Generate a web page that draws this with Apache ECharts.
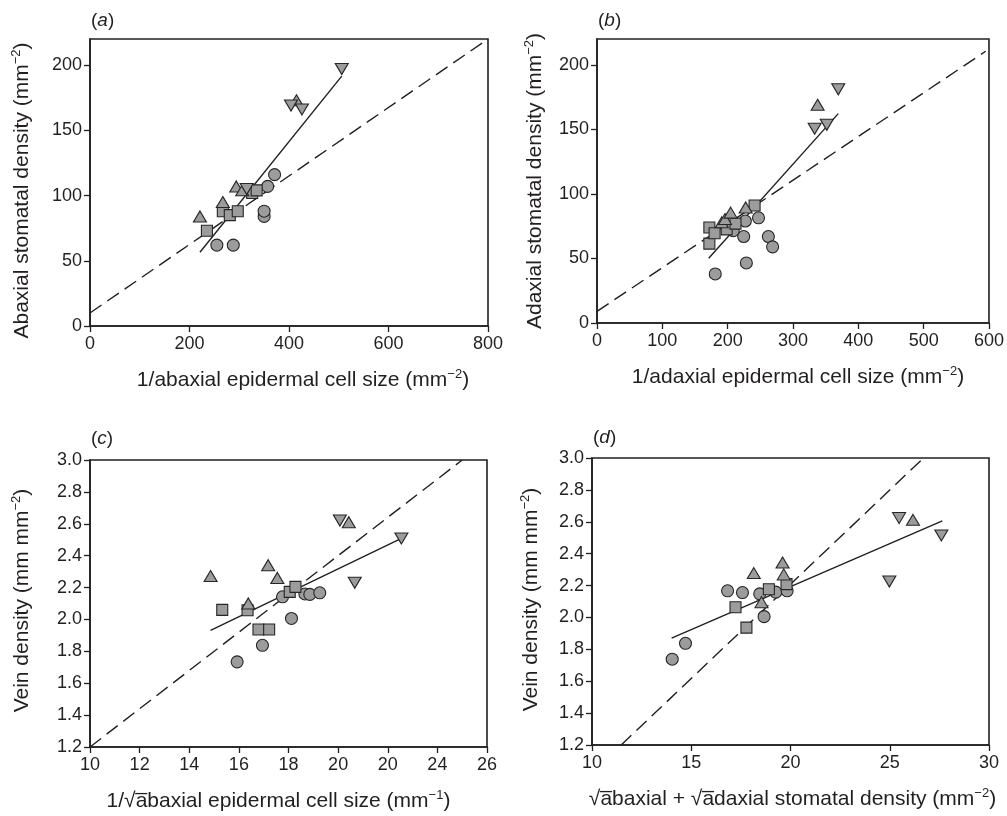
<!DOCTYPE html>
<html><head><meta charset="utf-8">
<script src="https://cdn.jsdelivr.net/npm/echarts@6/dist/echarts.min.js"></script>
<style>html,body{margin:0;padding:0;background:#fff}#c{width:1007px;height:816px}</style>
</head><body><div id="c"></div>
<script>
// ---------- Panel (a) ----------
const circlesA = [[255,62],[288,62],[350,84],[350,88],[357,107],[371,116]];
const squaresA = [[235,73],[267,88],[281,85],[297,88],[326,102],[335,104]];
const upA      = [[221,84],[267,95],[294,107],[306,104],[415,173]];
const downA    = [[315,105],[404,169],[426,166],[506,197]];
const solidA   = [[221,56.5],[506,191.5]];
const dashA    = [[0,10],[800,220]];
const xTicksA  = [0,200,400,600,800];
const yTicksA  = [0,50,100,150,200];

// ---------- Panel (b) ----------
const circlesB = [[181,38],[208.5,71.5],[224.6,67],[227,79],[228.6,46.5],[247.2,81.5],[262.3,67],[268.8,59]];
const squaresB = [[172,74],[172,61.5],[180,69.5],[198.5,72.5],[212,77],[241.2,91]];
const upB      = [[191,78],[196,80.5],[204.5,85.5],[227.6,89.5],[337.7,169]];
const downB    = [[333.2,150.5],[351.7,153.5],[369.3,181]];
const solidB   = [[171,50.2],[369.3,162.2]];
const dashB    = [[0,9],[595,210.5]];
const xTicksB  = [0,100,200,300,400,500,600];
const yTicksB  = [0,50,100,150,200];

// ---------- Panel (c) ----------
const circlesC = [[15.93,1.734],[16.95,1.838],[18.12,2.006],[17.76,2.142],[18.66,2.16],[18.86,2.157],[19.26,2.167]];
const squaresC = [[15.33,2.06],[16.35,2.058],[16.79,1.937],[17.22,1.937],[18.05,2.173],[18.28,2.204]];
const upC      = [[14.86,2.272],[17.18,2.34],[17.55,2.26],[16.38,2.10],[20.43,2.61]];
const downC    = [[20.07,2.62],[22.55,2.508],[20.67,2.23]];
const solidC   = [[14.86,1.932],[22.55,2.508]];
const dashC    = [[10,1.2],[25,3.0]];
const xTicksC  = [10,12,14,16,18,20,22,24,26];
const xLabelsC = ['10','12','14','16','18','20','20','24','26'];
const yTicksC  = [1.2,1.4,1.6,1.8,2.0,2.2,2.4,2.6,2.8,3.0];

// ---------- Panel (d) ----------
const circlesD = [[14.04,1.738],[14.71,1.838],[16.83,2.167],[17.58,2.156],[18.45,2.148],[19.26,2.159],[19.83,2.167],[18.67,2.005]];
const squaresD = [[17.23,2.064],[17.78,1.936],[18.91,2.177],[19.8,2.209]];
const upD      = [[18.15,2.278],[19.6,2.344],[19.66,2.27],[18.54,2.096],[26.17,2.612]];
const downD    = [[25.47,2.623],[27.6,2.514],[24.98,2.225]];
const solidD   = [[14.01,1.87],[27.65,2.606]];
const dashD    = [[11.47,1.2],[26.7,3.0]];
const xTicksD  = [10,15,20,25,30];
const yTicksD  = [1.2,1.4,1.6,1.8,2.0,2.2,2.4,2.6,2.8,3.0];

const FONT = '"Liberation Sans", Arial, Helvetica, sans-serif';
const INK = '#231f20';
const FILL = '#9c9c9c';

const grids = [
  {left:90, top:39, width:398, height:287},
  {left:597, top:39, width:398, height:284},
  {left:90, top:460, width:397, height:287},
  {left:592, top:458, width:397, height:287}
];

const richName = {
  t:{fontSize:21, fontFamily:FONT, color:INK},
  s:{fontSize:13, fontFamily:FONT, color:INK, padding:[0,0,11,0]}
};

function xAxis(gi, min, max, interval, ticks, name, gap, pad, fmt){
  return {
    type:'value', gridIndex:gi, min:min, max:max, interval:interval,
    name:name, nameLocation:'middle', nameGap:gap,
    nameTextStyle:{rich:richName, padding:pad},
    axisLine:{show:true, onZero:false, lineStyle:{color:INK, width:1.6}},
    axisTick:{show:true, length:6, lineStyle:{color:INK, width:1.3}, customValues:ticks},
    axisLabel:{color:INK, fontSize:18, fontFamily:FONT, margin:9, customValues:ticks,
      formatter: fmt || (v=>String(v))},
    splitLine:{show:false}
  };
}
function yAxis(gi, min, max, interval, ticks, name, gap, pad, fmt){
  return {
    type:'value', gridIndex:gi, min:min, max:max, interval:interval,
    name:name, nameLocation:'middle', nameGap:gap, nameRotate:90,
    nameTextStyle:{rich:richName, padding:pad},
    axisLine:{show:true, onZero:false, lineStyle:{color:INK, width:1.6}},
    axisTick:{show:true, length:6, lineStyle:{color:INK, width:1.3}, customValues:ticks},
    axisLabel:{color:INK, fontSize:18, fontFamily:FONT, margin:8, customValues:ticks,
      formatter: fmt || (v=>String(v))},
    splitLine:{show:false}
  };
}

function scatter(gi, data, symbol, size, rotate){
  return {type:'scatter', xAxisIndex:gi, yAxisIndex:gi, data:data, symbol:symbol,
    symbolSize:size, symbolRotate:rotate||0, z:5,
    itemStyle:{color:FILL, borderColor:'#262626', borderWidth:1.1, opacity:1},
    emphasis:{disabled:true}};
}
function line(gi, data, dashed){
  return {type:'line', xAxisIndex:gi, yAxisIndex:gi, data:data, showSymbol:false, symbol:'none',
    z:2, silent:true,
    lineStyle:{color:INK, width:1.4, type: dashed ? [14,7] : 'solid'}};
}
function panelSeries(gi, c, s, u, d, sol, das){
  return [line(gi, das, true), line(gi, sol, false),
    scatter(gi, c, 'circle', 12), scatter(gi, s, 'rect', 11),
    scatter(gi, u, 'triangle', [13,11]), scatter(gi, d, 'triangle', [13,11], 180)];
}

const fmt1 = v => v.toFixed(1);
const fmtC = v => xLabelsC[Math.round((v-10)/2)];

const titleRich = {
  n:{fontSize:19, fontFamily:FONT, color:INK, fontWeight:'normal'},
  i:{fontSize:19, fontFamily:FONT, color:INK, fontWeight:'normal', fontStyle:'italic'}
};
function ttl(letter, left, top){
  return {text:'{n|(}{i|'+letter+'}{n|)}', left:left, top:top, padding:0,
    textStyle:{fontWeight:'normal', rich:titleRich}};
}

const option = {
  animation:false,
  backgroundColor:'#fff',
  title:[ttl('a',91,11), ttl('b',598,11), ttl('c',91,429), ttl('d',593,428)],
  grid: grids.map(g => Object.assign({show:true, borderColor:INK, borderWidth:1.6, backgroundColor:'transparent', containLabel:false}, g)),
  xAxis:[
    xAxis(0,0,800,200,xTicksA,'{t|1/abaxial epidermal cell size (mm}{s|−2}{t|)}',42,[0,0,0,28]),
    xAxis(1,0,600,100,xTicksB,'{t|1/adaxial epidermal cell size (mm}{s|−2}{t|)}',42,[0,0,0,10]),
    xAxis(2,10,26,2,xTicksC,'{t|1/√a\u0305baxial epidermal cell size (mm}{s|−1}{t|)}',42,[0,20,0,0], fmtC),
    xAxis(3,10,30,5,xTicksD,'{t|√a\u0305baxial + √a\u0305daxial stomatal density (mm}{s|−2}{t|)}',42,[0,0,0,4])
  ],
  yAxis:[
    yAxis(0,0,220,50,yTicksA,'{t|Abaxial stomatal density (mm}{s|−2}{t|)}',56,[0,16,0,0]),
    yAxis(1,0,220,50,yTicksB,'{t|Adaxial stomatal density (mm}{s|−2}{t|)}',50,[0,0,0,0]),
    yAxis(2,1.2,3.0,0.2,yTicksC,'{t|Vein density (mm mm}{s|−2}{t|)}',56,[0,0,0,6], fmt1),
    yAxis(3,1.2,3.0,0.2,yTicksD,'{t|Vein density (mm mm}{s|−2}{t|)}',49,[0,0,0,4], fmt1)
  ],
  series:[].concat(
    panelSeries(0, circlesA, squaresA, upA, downA, solidA, dashA),
    panelSeries(1, circlesB, squaresB, upB, downB, solidB, dashB),
    panelSeries(2, circlesC, squaresC, upC, downC, solidC, dashC),
    panelSeries(3, circlesD, squaresD, upD, downD, solidD, dashD)
  )
};
const chart = echarts.init(document.getElementById('c'), null, {renderer:'canvas'});
chart.setOption(option);
</script></body></html>
